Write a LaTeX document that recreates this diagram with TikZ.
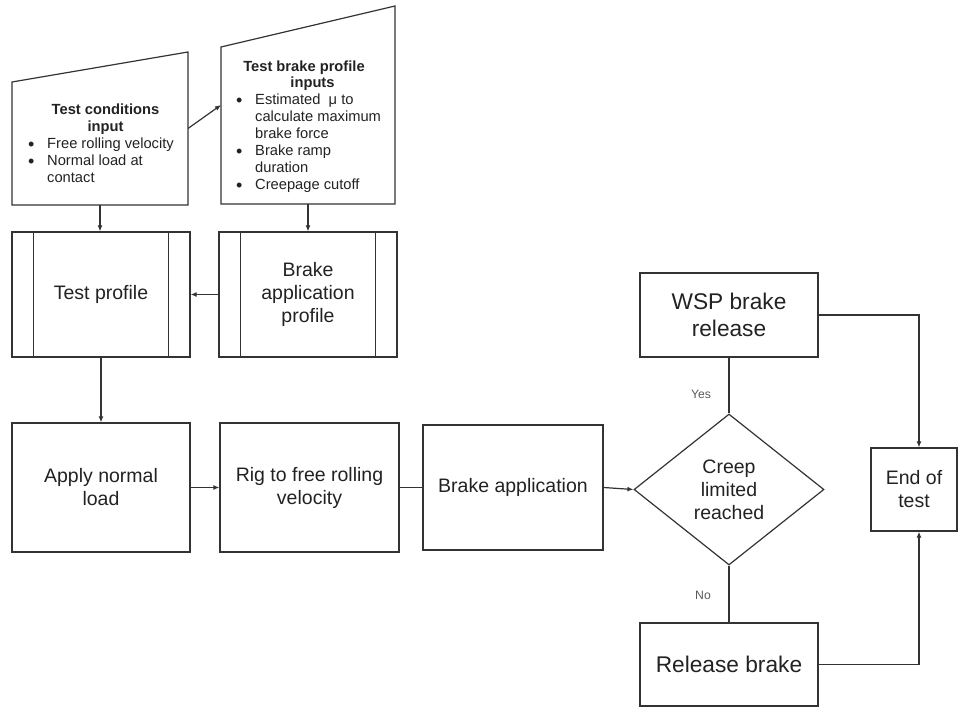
\documentclass[tikz,border=0pt]{standalone}
\usepackage{fontspec}
\setmainfont{Liberation Sans}
\usetikzlibrary{shapes.geometric,arrows.meta,calc}
\definecolor{ln}{HTML}{333333}
\definecolor{tx}{HTML}{222222}
\newcommand{\bul}{\smash{\raisebox{-1.2pt}{\fontsize{18}{17}\selectfont\textbullet}}}
\begin{document}
\begin{tikzpicture}[x=1pt,y=-1pt,
  box/.style={draw=ln, line width=1.2pt, rectangle, inner sep=0pt, align=center, text=tx, font=\fontsize{19.5}{23}\selectfont},
  big/.style={font=\fontsize{22.7}{27}\selectfont},
  hold/.style={inner sep=0pt, outer sep=0pt, rectangle},
  conn/.style={draw=ln, line width=1.2pt},
  arr/.style={conn, -{Latex[length=6pt,width=5pt]}},
  small/.style={inner sep=0pt, text=tx, font=\fontsize{14.7}{17}\selectfont},
  lbl/.style={inner sep=0pt, text=black!65, font=\fontsize{12.2}{14}\selectfont}
]
\path[use as bounding box] (0,0) rectangle (958,708);

% manual input shapes
\node[hold, minimum width=176pt, minimum height=153pt] (tci) at (100,128.5) {};
\node[hold, minimum width=174pt, minimum height=198pt] (tbp) at (308,105) {};
\draw[conn] (tci.south west) -- (tci.south east) -- (tci.north east) -- ([yshift=-30pt]tci.north west) -- cycle;
\draw[conn] (tbp.south west) -- (tbp.south east) -- (tbp.north east) -- ([yshift=-41pt]tbp.north west) -- cycle;

\node[small, anchor=base] (tcih) at (105.5,115) {\begin{tabular}[t]{@{}c@{}}\bfseries Test conditions\\\bfseries input\end{tabular}};
\node[small, anchor=base west] (tcil) at (28,149) {\begin{tabular}[t]{@{}p{19pt}@{}l@{}}\bul & Free rolling velocity\\ \bul & Normal load at\\ & contact\end{tabular}};

\node[small, anchor=base, font=\fontsize{14.7}{17}\selectfont\bfseries] (tbph1) at (304,72) {Test brake profile};
\node[small, anchor=base, font=\fontsize{14.7}{17}\selectfont\bfseries] (tbph2) at (312.5,88) {inputs};
\node[small, anchor=base west] (tbpl) at (236,105) {\begin{tabular}[t]{@{}p{19pt}@{}l@{}}\bul & Estimated\ \ μ to\\ & calculate maximum\\ & brake force\\ \bul & Brake ramp\\ & duration\\ \bul & Creepage cutoff\end{tabular}};

% predefined processes
\node[box, minimum width=178pt, minimum height=125pt] (tp) at (101,294.5) {Test profile};
\node[box, minimum width=178pt, minimum height=125pt] (bap) at (308,294.5) {Brake\\application\\profile};
\foreach \n in {tp,bap}{
  \draw[conn] ([xshift=22pt]\n.north west) -- ([xshift=22pt]\n.south west);
  \draw[conn] ([xshift=-22pt]\n.north east) -- ([xshift=-22pt]\n.south east);
}

% process row
\node[box, minimum width=178pt, minimum height=129pt] (anl) at (101,487.5) {Apply normal\\load};
\node[box, minimum width=179pt, minimum height=129pt] (rig) at (309.5,487.5) {Rig to free rolling\\velocity};
\node[box, minimum width=180pt, minimum height=125pt] (ba) at (513,487.5) {Brake application};
\node[box, diamond, aspect=1.258, minimum width=190pt, minimum height=151pt] (dia) at (729,489.5) {Creep\\limited\\reached};
\node[box, big, minimum width=178pt, minimum height=84pt] (wsp) at (729,315) {WSP brake\\release};
\node[box, minimum width=86pt, minimum height=83pt] (eot) at (914,489.5) {End of\\test};
\node[box, big, minimum width=178pt, minimum height=83pt] (rb) at (729,664.5) {Release brake};

\node[lbl] (yes) at (701,394) {Yes};
\node[lbl] (no) at (703,595) {No};

% connectors
\draw[arr] (tci.east) -- (tbp.west);
\draw[arr] (tci.south) -- (tci.south |- tp.north);
\draw[arr] (tbp.south) -- (tbp.south |- bap.north);
\draw[arr] (bap.west) -- (tp.east);
\draw[arr] (tp.south) -- (tp.south |- anl.north);
\draw[arr] (anl.east) -- (rig.west);
\draw[conn] (rig.east) -- (ba.west);
\draw[arr] (ba.east) -- (dia.west);
\draw[conn] (wsp.south) -- (dia.north);
\draw[conn] (dia.south) -- (rb.north);
\draw[arr] (wsp.east) -| ([xshift=5pt]eot.north);
\draw[arr] (rb.east) -| ([xshift=5pt]eot.south);
\end{tikzpicture}
\end{document}
